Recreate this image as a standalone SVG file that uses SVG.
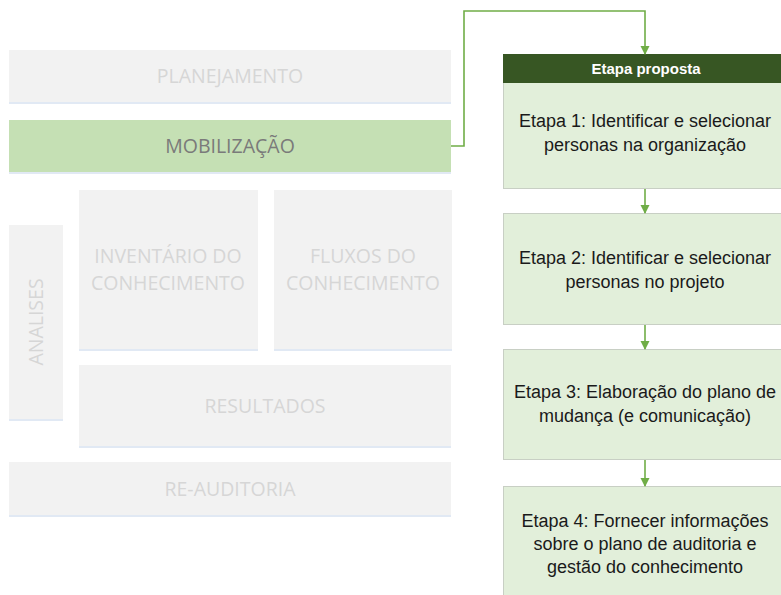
<svg xmlns="http://www.w3.org/2000/svg" width="781" height="595" viewBox="0 0 781 595">
<defs>
<style>
.g{fill:#f2f2f2}
.sh{fill:#e1e9f4}
.gt{font-family:"Open Sans",sans-serif;font-size:19.5px;fill:#d6d6d6;text-anchor:middle}
.mt{font-family:"Open Sans",sans-serif;font-size:19.5px;fill:#7a7a7a;text-anchor:middle}
.step{fill:#e2efda;stroke:#c8cfc4;stroke-width:1}
.st{font-family:"Liberation Sans",Arial,sans-serif;font-size:18px;fill:#1a1a1a;text-anchor:middle}
.ht{font-family:"Liberation Sans",Arial,sans-serif;font-size:15px;font-weight:bold;fill:#ffffff;text-anchor:middle}
.c{fill:none;stroke:#70ad47;stroke-width:1.6}
</style>
<marker id="ah" markerUnits="userSpaceOnUse" markerWidth="9" markerHeight="10" viewBox="0 0 9 10" refX="8" refY="5" orient="auto">
<path d="M0,0.5 L9,5 L0,9.5 Z" fill="#70ad47"/>
</marker>
</defs>
<rect width="781" height="595" fill="#ffffff"/>

<g id="planejamento">
<rect class="sh" x="9" y="52" width="442" height="52"/>
<rect class="g" x="9" y="50" width="442" height="52"/>
<text class="gt" x="230" y="83">PLANEJAMENTO</text>
</g>
<g id="mobilizacao">
<rect class="sh" x="9" y="122" width="442" height="52"/>
<rect x="9" y="120" width="442" height="52" fill="#c5e0b4"/>
<text class="mt" x="230" y="153">MOBILIZAÇÃO</text>
</g>
<g id="analises">
<rect class="sh" x="9" y="227" width="54" height="194"/>
<rect class="g" x="9" y="225" width="54" height="194"/>
<text class="gt" transform="translate(43 322) rotate(-90)" x="0" y="0">ANALISES</text>
</g>
<g id="inventario">
<rect class="sh" x="79" y="192" width="179" height="159"/>
<rect class="g" x="79" y="190" width="179" height="159"/>
<text class="gt" x="168" y="263">INVENTÁRIO DO</text>
<text class="gt" x="168" y="290">CONHECIMENTO</text>
</g>
<g id="fluxos">
<rect class="sh" x="274" y="192" width="178" height="159"/>
<rect class="g" x="274" y="190" width="178" height="159"/>
<text class="gt" x="363" y="263">FLUXOS DO</text>
<text class="gt" x="363" y="290">CONHECIMENTO</text>
</g>
<g id="resultados">
<rect class="sh" x="79" y="367" width="372" height="81"/>
<rect class="g" x="79" y="365" width="372" height="81"/>
<text class="gt" x="265" y="413">RESULTADOS</text>
</g>
<g id="reauditoria">
<rect class="sh" x="9" y="464" width="442" height="53"/>
<rect class="g" x="9" y="462" width="442" height="53"/>
<text class="gt" x="230" y="496">RE-AUDITORIA</text>
</g>

<g id="etapa1">
<rect class="step" x="503.5" y="54.5" width="290" height="134"/>
<rect x="503" y="54" width="291" height="29" fill="#375623"/>
<text class="ht" x="646" y="74">Etapa proposta</text>
<text class="st" x="645" y="127">Etapa 1: Identificar e selecionar</text>
<text class="st" x="645" y="151">personas na organização</text>
</g>
<g id="etapa2">
<rect class="step" x="503.5" y="213.5" width="290" height="111"/>
<text class="st" x="645" y="264">Etapa 2: Identificar e selecionar</text>
<text class="st" x="645" y="288">personas no projeto</text>
</g>
<g id="etapa3">
<rect class="step" x="503.5" y="349.5" width="290" height="110"/>
<text class="st" x="645" y="398">Etapa 3: Elaboração do plano de</text>
<text class="st" x="645" y="422">mudança (e comunicação)</text>
</g>
<g id="etapa4">
<rect class="step" x="503.5" y="486.5" width="290" height="120"/>
<text class="st" x="645" y="527">Etapa 4: Fornecer informações</text>
<text class="st" x="645" y="550">sobre o plano de auditoria e</text>
<text class="st" x="645" y="573">gestão do conhecimento</text>
</g>

<g id="connectors">
<path class="c" d="M451,146 H464 V11 H645 V54" marker-end="url(#ah)"/>
<path class="c" d="M645,189 V213" marker-end="url(#ah)"/>
<path class="c" d="M645,325 V349" marker-end="url(#ah)"/>
<path class="c" d="M645,460 V486" marker-end="url(#ah)"/>
</g>
</svg>
